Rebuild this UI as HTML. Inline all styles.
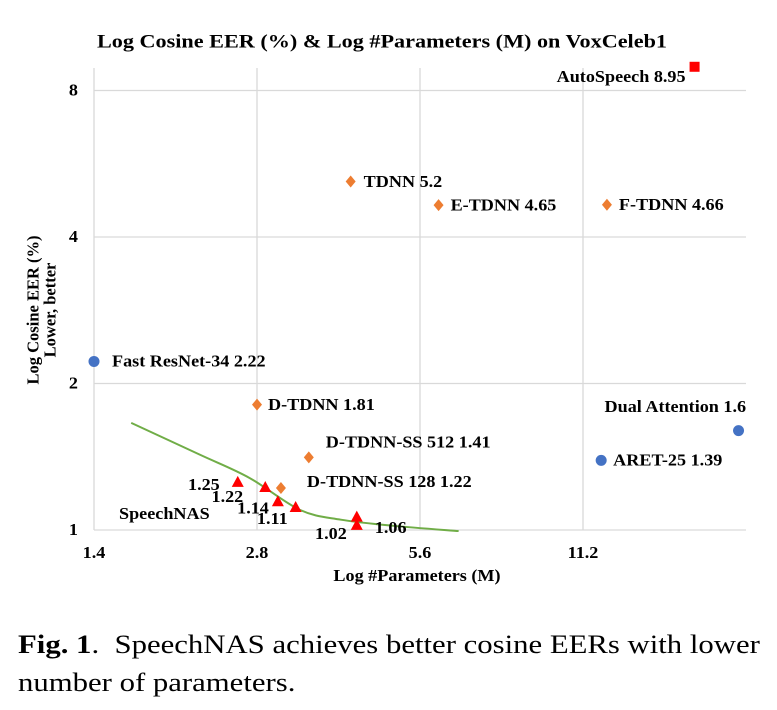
<!DOCTYPE html>
<html><head><meta charset="utf-8"><style>
body{margin:0;background:#fff;width:777px;height:710px;overflow:hidden}
svg text{font-family:"Liberation Serif",serif}
.cap{position:absolute;left:18px;top:625px;font-family:"Liberation Serif",serif;font-size:26.5px;line-height:38px;color:#000;white-space:nowrap;transform:scaleX(1.16);transform-origin:0 0}
</style></head><body>
<svg id="chart" width="777" height="620" style="position:absolute;left:0;top:0"></svg>
<div class="cap"><b>Fig. 1</b>.&nbsp; SpeechNAS achieves better cosine EERs with lower<br>number of parameters.</div>
<script>
const xTicks=[1.4,2.8,5.6,11.2];
const yTicks=[1,2,4,8];
const otherNames=["Fast ResNet-34 2.22","TDNN 5.2","E-TDNN 4.65","F-TDNN 4.66","D-TDNN 1.81","D-TDNN-SS 512 1.41","D-TDNN-SS 128 1.22","Dual Attention 1.6","ARET-25 1.39","AutoSpeech 8.95"];
const otherParams=[1.4,4.17,6.06,12.4,2.8,3.49,3.10,21.7,12.1,18.0];
const otherEER=[2.22,5.2,4.65,4.66,1.81,1.41,1.22,1.6,1.39,8.95];
const otherKind=["blue","orange","orange","orange","orange","orange","orange","blue","blue","red"];
const nasParams=[2.58,2.90,3.06,3.30,4.28,4.28];
const nasEER=[1.25,1.22,1.14,1.11,1.06,1.02];
const nasLabels=["1.25","1.22","1.14","1.11","1.06","1.02"];
const curveParams=[1.64,2.19,2.71,3.36,4.0,5.0,6.6];
const curveEER=[1.66,1.43,1.28,1.10,1.05,1.02,0.995];

const L=94,R=746,T=68,B=530;
const X=v=>L+Math.log2(v/1.4)*163;
const Y=v=>B-Math.log2(v)*146.5;
const svg=document.getElementById('chart');
const NS='http://www.w3.org/2000/svg';
function mk(tag,attrs,parent){const e=document.createElementNS(NS,tag);for(const k in attrs)e.setAttribute(k,attrs[k]);(parent||svg).appendChild(e);return e;}
function txt(s,x,y,opts,name,sx){const o=Object.assign({x:0,y:0,'font-size':16.5,'font-weight':'bold',fill:'#000','dominant-baseline':'central'},opts||{});
if(!o.transform)o.transform=`translate(${x},${y}) scale(${sx||1.1},1)`;
const t=mk('text',o);t.textContent=s;


return t;}

xTicks.forEach((v,i)=>{const l=mk('line',{x1:X(v),x2:X(v),y1:T,y2:B,stroke:'#d9d9d9','stroke-width':1.3});


txt(String(v),X(v),553,{'text-anchor':'middle'},'x-tick-label');});
yTicks.forEach(v=>{const l=mk('line',{x1:L,x2:R,y1:Y(v),y2:Y(v),stroke:'#d9d9d9','stroke-width':1.3});


txt(String(v),78,Y(v),{'text-anchor':'end'},'y-tick-label');});

txt("Log Cosine EER (%) & Log #Parameters (M) on VoxCeleb1",382,42,{'text-anchor':'middle','font-size':18.5},'chart-title',1.2);
txt("Log #Parameters (M)",417,576,{'text-anchor':'middle','font-size':16.5},'x-axis-title');
txt("Log Cosine EER (%)",0,0,{'text-anchor':'middle','font-size':16.5,transform:'translate(33,310) rotate(-90)'},'y-axis-title');
txt("Lower, better",0,0,{'text-anchor':'middle','font-size':16.5,transform:'translate(50,310) rotate(-90)'},'y-axis-subtitle');

const pts=curveParams.map((p,i)=>[X(p),Y(curveEER[i])]);
let d='M'+pts[0][0]+','+pts[0][1];
for(let i=0;i<pts.length-1;i++){const p0=pts[Math.max(0,i-1)],p1=pts[i],p2=pts[i+1],p3=pts[Math.min(pts.length-1,i+2)];
d+=' C'+(p1[0]+(p2[0]-p0[0])/6)+','+(p1[1]+(p2[1]-p0[1])/6)+' '+(p2[0]-(p3[0]-p1[0])/6)+','+(p2[1]-(p3[1]-p1[1])/6)+' '+p2[0]+','+p2[1];}
const cv=mk('path',{d:d,fill:'none',stroke:'#70AD47','stroke-width':2});



const labelOff=[[18,0,'start'],[13,0,'start'],[12,0,'start'],[12,0,'start'],[11,0,'start'],[17,-15,'start'],[26,-6,'start'],[-134,-24,'start'],[12,0,'start'],[-9,10,'end']];
otherNames.forEach((n,i)=>{const x=X(otherParams[i]),y=Y(otherEER[i]);let m;
if(otherKind[i]==='blue')m=mk('circle',{cx:x,cy:y,r:5.5,fill:'#4472C4'});
else if(otherKind[i]==='red')m=mk('rect',{x:x-5,y:y-5,width:10,height:10,fill:'#FF0000'});
else m=mk('path',{d:`M${x},${y-6}L${x+5},${y}L${x},${y+6}L${x-5},${y}Z`,fill:'#ED7D31'});


const o=labelOff[i];txt(n,x+o[0],y+o[1],{'text-anchor':o[2]},'point-label');});

const nasOff=[[-18,2],[-22,9],[-9,6],[-8,11],[18,10],[-10,8]];
nasParams.forEach((p,i)=>{const x=X(p),y=Y(nasEER[i]);
const t=mk('path',{d:`M${x},${y-7}L${x+6},${y+4}L${x-6},${y+4}Z`,fill:'#FF0000'});


const o=nasOff[i];txt(nasLabels[i],x+o[0],y+o[1],{'text-anchor':i===4?'start':'end'},'speechnas-label');});
txt("SpeechNAS",119,514,{},'speechnas-series-label');
</script>
</body></html>
